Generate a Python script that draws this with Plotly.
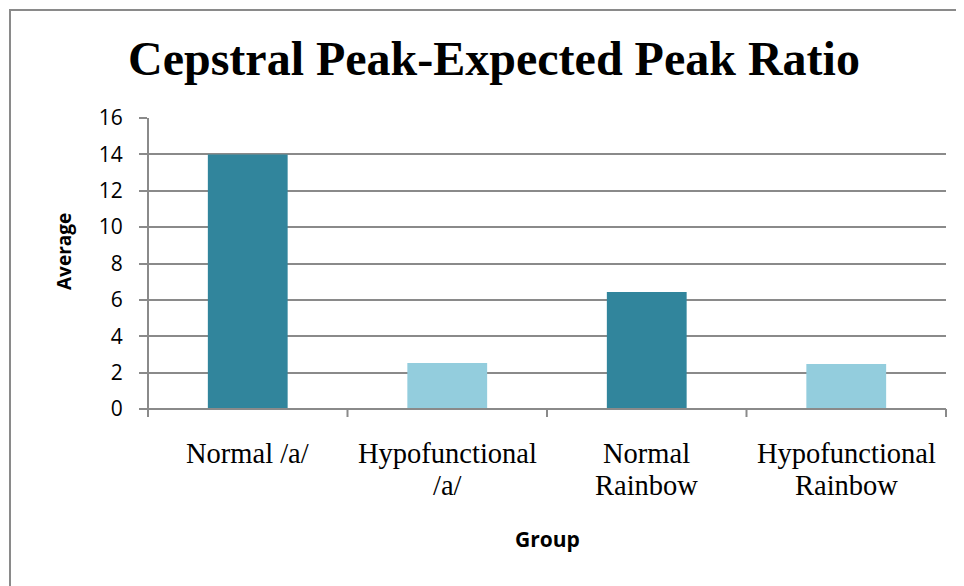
import plotly.graph_objects as go

categories = ["Normal /a/", "Hypofunctional /a/", "Normal Rainbow", "Hypofunctional Rainbow"]
label_lines = [["Normal /a/"], ["Hypofunctional", "/a/"], ["Normal", "Rainbow"], ["Hypofunctional", "Rainbow"]]
values = [14.0, 2.53, 6.43, 2.48]
bar_colors = ["#31859C", "#93CDDD", "#31859C", "#93CDDD"]
y_ticks = [0, 2, 4, 6, 8, 10, 12, 14, 16]
title_text = "Cepstral Peak-Expected Peak Ratio"
x_title = "Group"
y_title = "Average"

# page has an 8px body margin; figure sized to fill the rest of the window
OFF = 8
W, H = 964 - OFF, 586 - OFF
L, R, T, B = 148 - OFF, 964 - 946, 118 - OFF, 586 - 409
pw, ph = W - L - R, H - T - B

def px_x(px):  # reference page pixel -> paper x
    return (px - OFF - L) / pw

def px_y(py):  # reference page pixel -> paper y
    return (H - B - (py - OFF)) / ph

GRID = "#8A8A8A"

fig = go.Figure()
fig.add_trace(go.Bar(
    x=categories, y=values, marker=dict(color=bar_colors, line=dict(width=0)),
    width=0.4, showlegend=False, hoverinfo="x+y",
))

fig.update_layout(
    width=W, height=H,
    margin=dict(l=L, r=R, t=T, b=B, pad=0),
    plot_bgcolor="white", paper_bgcolor="white",
    xaxis=dict(showgrid=False, showline=False, ticks="", showticklabels=False,
               range=[-0.5, 3.5]),
    yaxis=dict(
        range=[0, 16], tickvals=y_ticks, showgrid=True, gridcolor=GRID, gridwidth=2,
        showline=False, zeroline=False, ticks="outside", ticklen=8, tickcolor=GRID, tickwidth=2,
        tickfont=dict(family="Open Sans", size=21, color="black"), ticklabelstandoff=12,
    ),
)

annotations = []
annotations.append(dict(text="<b>" + title_text + "</b>", xref="paper", yref="paper",
                        x=px_x(493.5), y=px_y(58), xanchor="center", yanchor="middle", showarrow=False,
                        font=dict(family="Liberation Serif", size=48, color="black")))
annotations.append(dict(text="<b>" + y_title + "</b>", xref="paper", yref="paper", textangle=-90,
                        x=px_x(64), y=px_y(252), xanchor="center", yanchor="middle", showarrow=False,
                        font=dict(family="Open Sans", size=19, color="black")))
annotations.append(dict(text="<b>" + x_title + "</b>", xref="paper", yref="paper",
                        x=px_x(547), y=px_y(539), xanchor="center", yanchor="middle", showarrow=False,
                        font=dict(family="Open Sans", size=21, color="black")))
line_centers = [453, 485]
for i, lines in enumerate(label_lines):
    for j, line in enumerate(lines):
        annotations.append(dict(text=line, xref="x", yref="paper", x=i, y=px_y(line_centers[j]),
                                xanchor="center", yanchor="middle", showarrow=False,
                                font=dict(family="Liberation Serif", size=28.5, color="black")))
fig.update_layout(annotations=annotations)

shapes = []
shapes.append(dict(type="line", xref="paper", yref="paper", x0=0, x1=0, y0=0, y1=1,
                   line=dict(color=GRID, width=2)))
shapes.append(dict(type="line", xref="paper", yref="paper", x0=0, x1=1, y0=0, y1=0,
                   line=dict(color=GRID, width=2)))
for i in range(len(categories) + 1):
    xp = i / len(categories)
    shapes.append(dict(type="line", xref="paper", yref="paper", x0=xp, x1=xp, y0=0, y1=px_y(417),
                       line=dict(color=GRID, width=2)))
shapes.append(dict(type="rect", xref="paper", yref="paper", x0=px_x(10), x1=px_x(975), y0=px_y(600), y1=px_y(10),
                   line=dict(color=GRID, width=2), fillcolor="rgba(0,0,0,0)", layer="below"))
fig.update_layout(shapes=shapes)

fig.write_html("out.html")
